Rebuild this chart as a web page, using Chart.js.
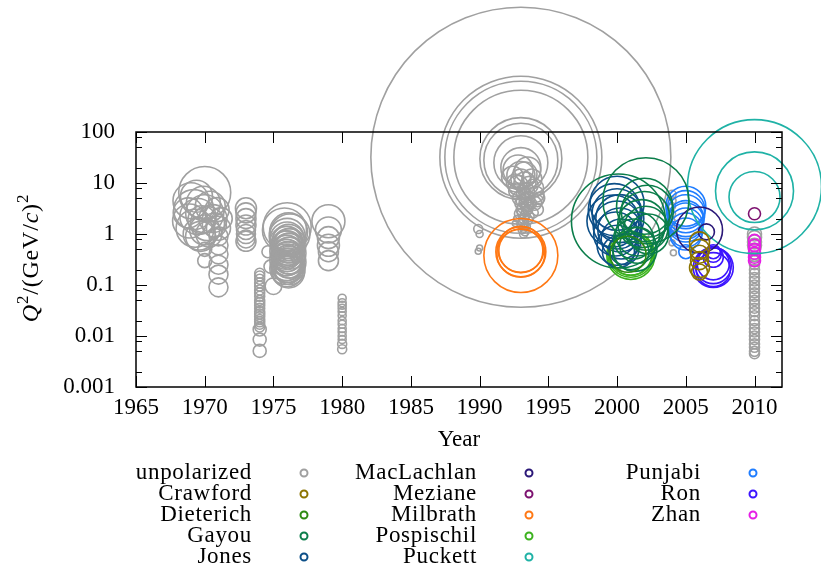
<!DOCTYPE html>
<html>
<head>
<meta charset="utf-8">
<script src="https://cdn.jsdelivr.net/npm/chart.js@4.4.1/dist/chart.umd.min.js"></script>
<style>
  html,body{margin:0;padding:0;background:#fff}
  #wrap{width:821px;height:564px}
</style>
</head>
<body>
<div id="wrap"><canvas id="c" width="821" height="564"></canvas></div>
<script>
// [year, Q^2 in (GeV/c)^2, bubble radius]
const unpolarized = [
  [1970.0,6.5,26],[1969.0,4.5,18],[1969.2,3.0,20],[1969.5,2.2,18],[1968.9,1.8,17],[1969.3,1.3,19],
  [1969.6,1.0,16],[1969.9,4.0,17],[1970.0,2.5,19],[1970.2,1.6,17],[1970.4,3.5,15],[1970.0,1.2,15],
  [1969.7,0.9,15],[1970.6,2.0,14],[1970.9,3.0,12],[1971.2,2.0,11],[1971.0,1.3,12],
  [1969.4,5.5,16],[1968.8,2.6,15],[1969.8,1.9,14],[1970.3,1.0,13],[1970.7,1.5,12],
  [1971.0,0.9,9.5],[1971.0,0.6,9.5],[1971.0,0.4,9.5],[1971.0,0.25,9.5],[1971.0,0.16,9.5],[1971.0,0.09,9.5],
  [1970.0,0.5,7],[1970.0,0.3,7],
  [1973.0,3.2,10.5],[1973.0,2.6,10],[1973.0,2.0,10],[1973.0,1.5,10],[1973.0,1.2,9.5],[1973.0,1.0,9.5],[1973.0,0.8,9],[1973.0,0.72,10],
  [1974.0,0.17,5],[1974.0,0.15,5],[1974.0,0.13,5],[1974.0,0.11,5],[1974.0,0.095,5],[1974.0,0.08,5],[1974.0,0.07,5],
  [1974.0,0.06,5],[1974.0,0.05,5],[1974.0,0.045,5],[1974.0,0.04,5],[1974.0,0.035,5],[1974.0,0.03,5],[1974.0,0.027,5],
  [1974.0,0.024,5],[1974.0,0.021,5],[1974.0,0.019,5],[1974.0,0.017,5],[1974.0,0.015,5],[1974.0,0.0134,6.5],
  [1974.0,0.0085,6.5],[1974.0,0.0051,6.5],
  [1975.0,0.095,8.3],[1974.8,0.23,6.7],[1974.6,0.45,6],
  [1976.0,1.39,24],[1975.8,1.2,22],[1976.2,1.0,20],[1976.0,0.9,18],
  [1976.1,0.75,16],[1975.9,0.68,16],[1976.2,0.62,16],[1976.0,0.56,16],[1976.1,0.5,16],[1975.9,0.46,16],
  [1976.2,0.42,16],[1976.0,0.38,16],[1976.1,0.34,16],[1975.9,0.31,16],[1976.2,0.28,16],[1976.0,0.25,16],
  [1976.1,0.23,16],[1975.9,0.21,16],[1976.0,0.19,16],[1976.1,0.18,16],
  [1976.0,0.72,15],[1976.1,0.65,15],[1975.9,0.58,15],[1976.2,0.53,15],[1976.0,0.48,15],[1976.1,0.44,15],
  [1975.9,0.4,15],[1976.0,0.36,15],[1976.2,0.32,15],[1976.0,0.3,15],[1976.1,0.27,15],[1975.9,0.24,15],
  [1976.0,0.22,15],[1976.2,0.2,15],[1976.0,0.8,17],[1976.1,1.1,19],
  [1979.0,1.78,16.5],[1979.0,1.2,13],[1979.0,0.85,11],[1979.0,0.6,11],[1979.0,0.45,10],[1979.0,0.3,10],
  [1980.0,0.055,4],[1980.0,0.045,4],[1980.0,0.04,4],[1980.0,0.035,4],[1980.0,0.03,4],[1980.0,0.025,4],
  [1980.0,0.02,4],[1980.0,0.017,4],[1980.0,0.014,4],[1980.0,0.012,4],[1980.0,0.01,4],[1980.0,0.0085,4],
  [1980.0,0.007,4.5],[1980.0,0.0055,4.5],
  [1989.9,1.25,4.5],[1990.0,1.0,3.5],[1990.0,0.53,3],[1989.9,0.46,3],
  [1993.0,32,150],[1993.0,32,81],[1993.0,32,76],[1993.0,32,67],
  [1993.0,30,41],[1993.0,28,37],[1993.0,25,27],[1993.0,20,20],[1992.8,18,15],[1993.3,15,12],[1993.0,12,10],
  [1992.6,10,9],[1993.6,9,9],[1992.7,7,8],[1993.4,7,8],[1992.9,5,7],[1993.5,5,7],[1993.0,4,6],[1993.7,4,6],
  [1993.1,3,6],[1993.5,3,5],[1992.9,2.5,5],[1993.6,2.2,5],[1993.2,2,5],[1993.0,1.6,4],[1993.4,1.4,4],
  [1993.1,1.2,4],[1992.7,2.0,3],[1992.6,1.6,3],[1994.0,8,9],[1994.1,6,8],[1994.0,4,7],[1994.2,3,6],
  [1993.2,6,7],[1993.4,5.5,7],[1993.1,4.5,6],[1993.3,4,6],[1993.5,3.6,6],[1993.2,3.3,6],[1993.4,2.8,5],
  [1993.1,2.6,5],[1993.3,2.3,5],[1993.5,1.9,5],[1993.2,1.7,5],[1993.3,1.5,4],[1993.2,1.3,4],[1993.3,1.1,4],
  [1993.2,1.0,4],[1992.8,9,10],[1993.3,10,11],[1993.8,12,10],[1992.4,13,11],[1993.0,14,14],[1993.5,18,13],
  [1994.3,5,6],[1994.2,4.5,6],[1993.9,2.6,5],
  [2004.0,6,4],[2004.0,4.5,4],[2004.0,3.5,3.5],[2004.0,2.5,3.5],[2004.0,1.8,3],[2004.0,1.3,3],
  [2003.9,1.0,3],[2004.0,0.67,3],[2004.1,0.43,3],
  [2010.0,1.0,7],[2010.0,0.85,7],[2010.0,0.7,7],[2010.0,0.6,7],[2010.0,0.5,6],[2010.0,0.42,6],
  [2010.0,0.36,5],[2010.0,0.3,5],[2010.0,0.25,5],[2010.0,0.2,5],[2010.0,0.17,5],[2010.0,0.14,5],
  [2010.0,0.12,5],[2010.0,0.1,5],[2010.0,0.085,5],[2010.0,0.07,5],[2010.0,0.06,5],[2010.0,0.05,5],
  [2010.0,0.042,5],[2010.0,0.035,5],[2010.0,0.03,5],[2010.0,0.025,5],[2010.0,0.02,5],[2010.0,0.017,5],
  [2010.0,0.014,5],[2010.0,0.012,5],[2010.0,0.01,5],[2010.0,0.0085,5],[2010.0,0.007,5],[2010.0,0.006,5],
  [2010.0,0.005,5],[2010.0,0.0045,5]
];
const crawford = [[2006.0,0.7,10],[2006.0,0.5,10],[2006.0,0.4,9],[2006.0,0.3,9],[2006.0,0.22,10],[2006.0,0.18,8]];
const dieterich = [[2000.8,0.4,18]];
const gayou = [
  [2000.1,1.8,47],[2002.1,4.5,43],[2002.0,3.5,28],[2002.2,2.8,26],[2002.0,2.2,25],[2001.8,1.6,24],
  [2002.1,1.3,22],[2001.5,1.0,22],[2001.2,0.8,20],[2001.5,0.6,18],[2001.0,0.45,18],[2001.3,0.5,22],[2002.3,1.0,20]
];
const jones = [
  [2000.0,4.0,27],[1999.8,3.0,26],[2000.0,2.5,25],[2000.2,2.0,24],[1999.7,1.8,26],[2000.0,1.5,24],
  [2000.2,1.2,22],[1999.9,1.0,22],[2000.3,0.8,20],[2000.0,0.6,20],[2000.5,0.5,15],[2000.1,0.45,16]
];
const maclachlan = [[2006.0,1.2,23],[2006.5,1.1,8]];
const meziane = [[2010.0,2.5,6]];
const milbrath = [[1993.0,0.38,37],[1993.0,0.45,25],[1993.0,0.42,24],[1993.0,0.5,23],[1993.0,0.47,22]];
const pospischil = [[2001.0,0.4,23],[2001.0,0.42,22],[2001.0,0.38,24],[2001.0,0.4,21]];
const puckett = [[2010.0,8.5,67],[2010.0,7.0,39],[2010.0,5.3,25.5]];
const punjabi = [
  [2005.0,3.5,20],[2005.0,3.0,19],[2005.0,2.5,19],[2005.0,2.0,18],[2005.0,1.8,18],[2005.0,1.5,17],
  [2005.0,1.2,17],[2005.0,1.0,16],[2005.0,0.45,7]
];
const ron = [[2007.0,0.22,20],[2007.0,0.24,18],[2007.0,0.2,17],[2007.0,0.26,16],[2007.0,0.35,10],[2007.0,0.4,8],[2007.0,0.45,7]];
const zhan = [[2010.0,0.75,6],[2010.0,0.6,6],[2010.0,0.5,6],[2010.0,0.42,6],[2010.0,0.35,6],[2010.0,0.3,6]];

const names = ['unpolarized','Crawford','Dieterich','Gayou','Jones','MacLachlan','Meziane','Milbrath',
  'Pospischil','Puckett','Punjabi','Ron','Zhan'];
const series = [unpolarized,crawford,dieterich,gayou,jones,maclachlan,meziane,milbrath,pospischil,puckett,punjabi,ron,zhan];
const colors = ['#a0a0a0','#8c7400','#2e8a12','#0b7d4a','#0c4f88','#2b1878','#7d1270','#ff7814',
  '#3cb21e','#1fb2a6','#1f7dff','#3c14ff','#e61ee6'];

const xTicks = [1965,1970,1975,1980,1985,1990,1995,2000,2005,2010];
const yTicks = [0.001,0.01,0.1,1,10,100];

const FONT = "'Liberation Serif','Times New Roman',serif";
const FS = 23;

// inward tick marks on all four sides plus the frame
const frame = {
  id:'frame',
  afterDatasetsDraw(chart){
    const {ctx, chartArea:a, scales:{x,y}} = chart;
    const r = v => Math.round(v)+0.5;
    ctx.save();
    ctx.strokeStyle='#000';
    ctx.lineWidth=1;
    ctx.beginPath();
    xTicks.forEach(v=>{
      const px=r(x.getPixelForValue(v));
      ctx.moveTo(px,a.bottom); ctx.lineTo(px,a.bottom-11);
      ctx.moveTo(px,a.top); ctx.lineTo(px,a.top+11);
    });
    yTicks.forEach(v=>{
      const py=r(y.getPixelForValue(v));
      ctx.moveTo(a.left,py); ctx.lineTo(a.left+11,py);
      ctx.moveTo(a.right,py); ctx.lineTo(a.right-11,py);
      if(v<100) [2,5,8].forEach(m=>{
        const q=r(y.getPixelForValue(v*m));
        ctx.moveTo(a.left,q); ctx.lineTo(a.left+6,q);
        ctx.moveTo(a.right,q); ctx.lineTo(a.right-6,q);
      });
    });
    ctx.stroke();
    ctx.lineWidth=1.5;
    ctx.strokeRect(a.left,a.top,a.right-a.left,a.bottom-a.top);
    ctx.restore();
  }
};

// y title with italic Q and c, superscripts
const yTitle = {
  id:'ytitle',
  afterDraw(chart){
    const ctx=chart.ctx;
    const parts=[['Q','italic',24,0],['2','',17,-10],['/(GeV/','',24,0],['c','italic',24,0],[')','',24,0],['2','',17,-10]];
    ctx.save();
    ctx.translate(38,258);
    ctx.rotate(-Math.PI/2);
    ctx.letterSpacing='0.8px';
    let w=0;
    parts.forEach(p=>{ctx.font=`${p[1]} ${p[2]}px ${FONT}`; w+=ctx.measureText(p[0]).width;});
    let xx=-w/2;
    ctx.fillStyle='#000';
    ctx.textBaseline='alphabetic';
    parts.forEach(p=>{
      ctx.font=`${p[1]} ${p[2]}px ${FONT}`;
      ctx.fillText(p[0],xx,p[3]);
      xx+=ctx.measureText(p[0]).width;
    });
    ctx.restore();
  }
};

// legend: three columns, right-aligned names with a marker after each
const legendBox = {
  id:'legendBox',
  afterDraw(chart){
    const ctx=chart.ctx;
    const textRight=[252,477,701], markX=[304,529,753], rowY=[473,494,515,536,557];
    ctx.save();
    ctx.font=`${FS}px ${FONT}`;
    ctx.letterSpacing='0.7px';
    ctx.textAlign='right';
    ctx.textBaseline='middle';
    ctx.fillStyle='#000';
    chart.data.datasets.forEach((ds,i)=>{
      const col=Math.floor(i/5), row=i%5;
      ctx.fillText(ds.label,textRight[col],rowY[row]);
      ctx.beginPath();
      ctx.arc(markX[col],rowY[row],3.5,0,Math.PI*2);
      ctx.strokeStyle=ds.borderColor;
      ctx.lineWidth=2;
      ctx.stroke();
    });
    ctx.restore();
  }
};

const datasets = series.map((pts,i)=>({
  label:names[i],
  data:pts.map(p=>({x:p[0],y:p[1],r:p[2]})),
  borderColor:colors[i],
  backgroundColor:'rgba(0,0,0,0)',
  borderWidth:1.6,
  hoverBorderWidth:1.6,
  order:i===0?1:0,
  clip:false
}));

new Chart(document.getElementById('c'),{
  type:'bubble',
  data:{datasets},
  plugins:[frame,yTitle,legendBox],
  options:{
    responsive:false,
    animation:false,
    events:[],
    layout:{autoPadding:false,padding:{left:0,top:132,right:39,bottom:110}},
    plugins:{legend:{display:false},tooltip:{enabled:false}},
    scales:{
      x:{
        type:'linear',min:1965,max:2012,
        afterBuildTicks:s=>{s.ticks=xTicks.map(v=>({value:v}));},
        afterFit:s=>{s.height=67;},
        grid:{display:false,drawTicks:false},
        border:{display:false},
        ticks:{color:'#000',font:{family:FONT,size:FS},padding:7,maxRotation:0,autoSkip:false,callback:v=>String(v)},
        title:{display:true,text:'Year',color:'#000',font:{family:FONT,size:FS},padding:0}
      },
      y:{
        type:'logarithmic',min:0.001,max:100,
        afterBuildTicks:s=>{s.ticks=yTicks.map(v=>({value:v}));},
        afterFit:s=>{s.width=136;},
        grid:{display:false,drawTicks:false},
        border:{display:false},
        ticks:{color:'#000',font:{family:FONT,size:FS},padding:21,autoSkip:false,callback:v=>String(v)}
      }
    }
  }
});
</script>
</body>
</html>
